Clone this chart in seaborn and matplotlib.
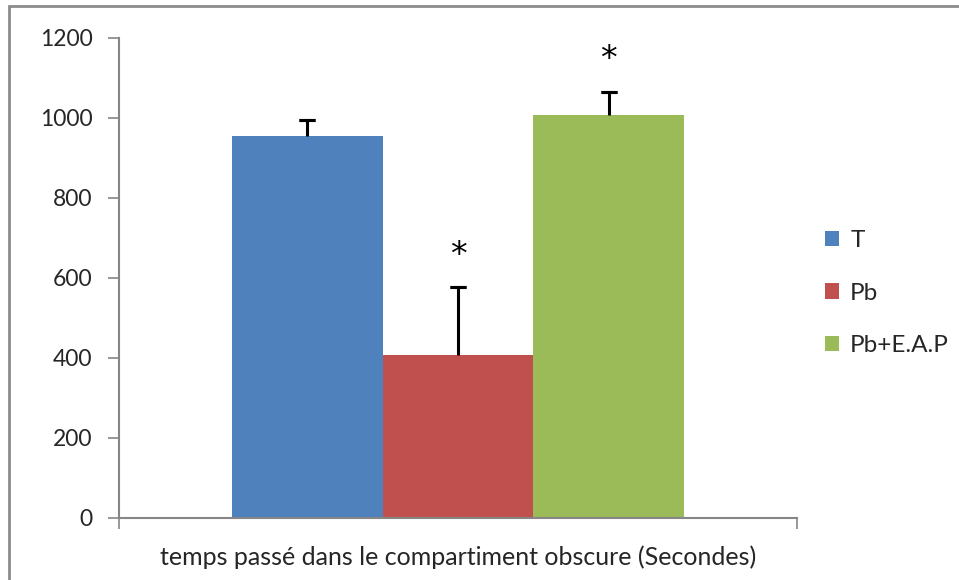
import matplotlib
matplotlib.use("Agg")
import matplotlib.pyplot as plt
import seaborn as sns
import pandas as pd
from matplotlib.patches import Rectangle

groups = ["T", "Pb", "Pb+E.A.P"]
means = [955, 407, 1008]
errors = [40, 170, 58]
signif = ["", "*", "*"]
category = "temps passé dans le compartiment obscure (Secondes)"
colors = ["#4F81BD", "#C0504D", "#9BBB59"]
yticks = [0, 200, 400, 600, 800, 1000, 1200]

sns.set_theme(style="white")
plt.rcParams['font.family'] = ['Lato', 'DejaVu Sans']

df = pd.DataFrame({"cat": [category] * 3, "grp": groups, "val": means})

fig = plt.figure(figsize=(9.59, 5.80), dpi=100)
ax = fig.add_axes([119 / 959, 1 - 518 / 580, (797 - 119) / 959, (518 - 38) / 580])

sns.barplot(data=df, x="cat", y="val", hue="grp", hue_order=groups,
            palette=colors, saturation=1, width=0.667, dodge=True,
            errorbar=None, ax=ax, legend=True, linewidth=0)

bars = ax.patches[:3]
for bar, err, sig in zip(bars, errors, signif):
    xc = bar.get_x() + bar.get_width() / 2
    top = bar.get_height()
    ax.vlines(xc, top, top + err, colors="black", linewidth=2.2, zorder=3)
    ax.errorbar([xc], [top + err], yerr=[[0], [0]], fmt="none", ecolor="black",
                elinewidth=0, capsize=6, capthick=2.2, zorder=3)
    if sig:
        ax.text(xc, top + err + 80, sig, ha="center", va="center",
                fontsize=24, color="black", family="DejaVu Sans")

ax.set_xlim(-0.5, 0.5)
ax.set_ylim(0, 1200)
ax.set_yticks(yticks)
ax.set_xticks([-0.5, 0.5])
ax.set_xticklabels(["", ""])
ax.tick_params(axis="y", direction="out", length=8, width=1.2, color="#868686",
               labelsize=16.5, pad=11, left=True)
ax.tick_params(axis="x", direction="out", length=8, width=1.2, color="#868686",
               bottom=True)
for s in ["top", "right"]:
    ax.spines[s].set_visible(False)
for s in ["left", "bottom"]:
    ax.spines[s].set_color("#868686")
    ax.spines[s].set_linewidth(1.5)
ax.set_ylabel("")
ax.set_xlabel(category, fontsize=18, labelpad=8)

handles, labels = ax.get_legend_handles_labels()
ax.legend(handles, labels, loc="center left", bbox_to_anchor=(815 / 959, 1 - 293 / 580),
          bbox_transform=fig.transFigure, frameon=False, fontsize=17.5,
          handlelength=0.6, handleheight=0.6, handletextpad=0.45,
          labelspacing=1.3, borderaxespad=0)

fig.patches.append(Rectangle((9 / 959, -0.1), 1.2, (1 - 6 / 580) + 0.1,
                             transform=fig.transFigure, fill=False,
                             edgecolor="#8C8C8C", linewidth=2))

fig.savefig("out.png", dpi=100)
